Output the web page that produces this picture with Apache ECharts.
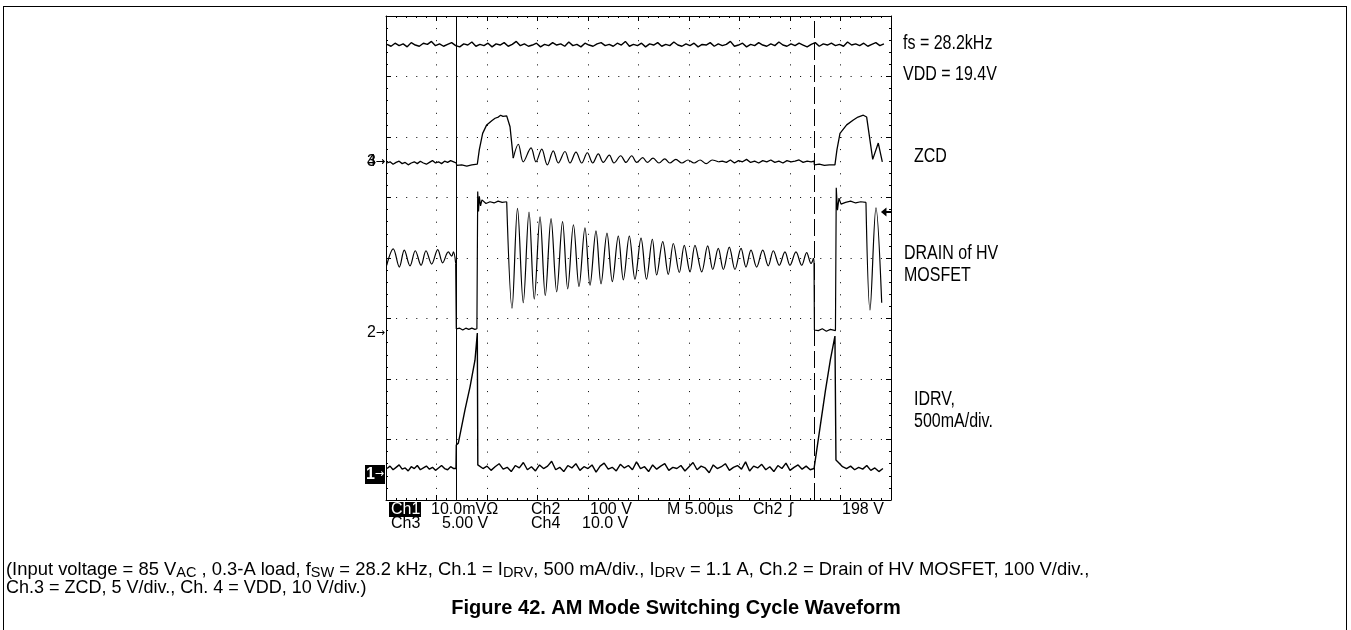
<!DOCTYPE html>
<html><head><meta charset="utf-8">
<script src="https://cdn.jsdelivr.net/npm/echarts@6/dist/echarts.min.js"></script>
<style>html,body{margin:0;padding:0;background:#fff}#c{width:1351px;height:630px}</style>
</head><body><div id="c"></div>
<script>
// ---------------- DATA (time in µs, amplitude in screen divisions from bottom) ----------------
const timeRange = [0, 50];          // 10 div x 5 µs
const divRange = [0, 8];            // 8 vertical divisions
const cursorTimes = [6.96, 42.38];  // solid and dashed cursors
const triggerMark = [49.55, 4.76];  // Ch2 trigger level arrow

// Ch4 VDD: sampled every 0.4 µs from 0.1 µs
const vddNoise = [7.53,7.50,7.55,7.51,7.54,7.49,7.56,7.52,7.50,7.55,7.53,7.58,7.51,7.54,7.50,7.53,7.56,7.51,7.49,7.54,
7.52,7.57,7.50,7.53,7.51,7.55,7.49,7.54,7.52,7.56,7.50,7.53,7.58,7.51,7.54,7.50,7.52,7.55,7.49,7.53,
7.51,7.56,7.52,7.54,7.50,7.57,7.51,7.53,7.49,7.55,7.52,7.50,7.54,7.56,7.51,7.53,7.50,7.55,7.52,7.58,
7.50,7.53,7.51,7.55,7.49,7.54,7.52,7.56,7.50,7.53,7.51,7.57,7.52,7.50,7.54,7.51,7.55,7.49,7.53,7.52,
7.56,7.50,7.54,7.51,7.53,7.58,7.50,7.52,7.55,7.49,7.53,7.51,7.56,7.52,7.50,7.54,7.51,7.57,7.52,7.50,
7.54,7.51,7.55,7.52,7.49,7.53,7.56,7.50,7.54,7.52,7.55,7.51,7.53,7.50,7.57,7.52,7.54,7.51,7.55,7.50,
7.53,7.56,7.51,7.54];

// Ch3 ZCD
const zcdBase1 = [5.57,5.59,5.55,5.58,5.60,5.56,5.58,5.54,5.57,5.59,5.56,5.60,5.57,5.55,5.58,5.61,5.57,5.59,5.56,5.60,5.58,5.61,5.59]; // every 0.3 µs from 0.1
const zcdPulse1 = [[6.96,5.57],[7.0,5.53],[7.5,5.54],[8.0,5.52],[8.5,5.54],[9.04,5.55],[9.24,5.79],[9.57,6.06],[9.97,6.20],[10.47,6.27],[10.8,6.31],[11.12,6.33],[11.35,6.36],[11.58,6.34],[11.95,6.35],[12.28,6.17],[12.60,5.65]];
const zcdRing1 = [[12.60,5.65],[13.10,5.88],[13.59,5.59],[14.36,5.82],[14.85,5.59],[15.42,5.80],[15.97,5.54],[16.56,5.77],[17.06,5.57],[17.72,5.76],[18.22,5.57],[18.81,5.75],[19.38,5.57],[19.93,5.74],[20.47,5.57],[21.02,5.72],[21.51,5.58],[22.11,5.70],[22.57,5.57],[23.24,5.69],[23.76,5.58],[24.33,5.69],[24.82,5.58],[25.42,5.66],[25.87,5.58],[26.44,5.65],[27.03,5.57],[27.6,5.64],[28.1,5.57],[28.7,5.63],[29.3,5.57],[29.9,5.62],[30.5,5.57],[31.1,5.62],[31.7,5.56],[32.3,5.62],[32.9,5.59]];
const zcdBase2 = [5.60,5.58,5.62,5.57,5.61,5.59,5.63,5.58,5.60,5.57,5.61,5.59,5.62,5.58,5.60,5.57,5.61,5.59,5.60,5.62,5.58,5.60,5.59]; // every 0.4 µs from 33.3
const zcdPulse2 = [[42.38,5.60],[42.42,5.54],[42.9,5.55],[43.4,5.53],[43.9,5.54],[44.45,5.54],[44.65,5.79],[44.95,6.06],[45.61,6.20],[46.27,6.28],[46.73,6.33],[47.26,6.36],[47.59,6.33],[48.19,5.63],[48.74,5.90],[49.14,5.59]];

// Ch2 Drain of HV MOSFET
const drainRipple = [[0.07,3.88],[0.72,4.15],[1.32,3.85],[1.81,4.13],[2.38,3.87],[2.90,4.12],[3.47,3.88],[3.96,4.12],[4.52,3.90],[5.12,4.14],[5.61,3.92],[6.17,4.10],[6.50,4.03],[6.68,4.10],[6.90,3.91]];
const drainStep1 = [[6.90,3.91],[6.96,2.83],[7.3,2.84],[7.6,2.81],[7.9,2.84],[8.2,2.82],[8.5,2.84],[8.8,2.82],[9.0,2.83],[9.08,5.10],[9.16,4.77],[9.24,5.02],[9.36,4.86],[9.50,4.96],[9.9,4.90],[10.3,4.93],[10.7,4.91],[11.1,4.94],[11.5,4.92],[11.95,4.93]];
const drainRing1 = [[11.95,4.93],[12.48,3.17],[13.02,4.82],[13.59,3.26],[14.16,4.76],[14.68,3.32],[15.25,4.68],[15.77,3.38],[16.34,4.65],[16.90,3.44],[17.48,4.60],[17.99,3.49],[18.56,4.55],[19.11,3.53],[19.70,4.50],[20.20,3.55],[20.79,4.45],[21.29,3.57],[21.88,4.41],[22.41,3.61],[23.0,4.36],[23.50,3.64],[24.09,4.36],[24.65,3.65],[25.25,4.33],[25.79,3.65],[26.37,4.31],[26.80,3.72],[27.40,4.27],[27.95,3.73],[28.45,4.24],[29.04,3.76],[29.53,4.21],[30.10,3.77],[30.59,4.21],[31.26,3.77],[31.85,4.20],[32.35,3.81],[32.90,4.16],[33.40,3.81],[33.99,4.18],[34.55,3.81],[35.15,4.16],[35.64,3.85],[36.14,4.13],[36.70,3.85],[37.30,4.13],[37.85,3.87],[38.35,4.12],[38.94,3.88],[39.50,4.10],[40.0,3.88],[40.59,4.10],[41.16,3.88],[41.65,4.09],[42.08,3.91],[42.33,4.00]];
const drainStep2 = [[42.33,4.00],[42.38,3.94],[42.42,2.81],[42.8,2.80],[43.2,2.83],[43.6,2.79],[44.0,2.82],[44.5,2.80],[44.58,5.16],[44.70,4.79],[44.85,4.99],[45.05,4.89],[45.5,4.92],[46.0,4.94],[46.5,4.91],[47.0,4.93],[47.52,4.92]];
const drainRing2 = [[47.52,4.92],[47.92,3.14],[48.51,4.83],[49.08,3.26]];

// Ch1 IDRV
const idrvBase1 = [0.52,0.56,0.50,0.54,0.58,0.51,0.53,0.48,0.55,0.52,0.57,0.50,0.53,0.56,0.51,0.54,0.49,0.53,0.57,0.52,0.50,0.55,0.52]; // every 0.3 µs from 0.1
const idrvRamp1 = [[6.93,0.52],[6.96,0.91],[7.16,0.94],[7.82,1.49],[8.32,1.87],[8.81,2.31],[8.98,2.64],[9.04,2.76],[9.09,0.58]];
const idrvBase2 = [0.58,0.52,0.56,0.49,0.55,0.60,0.51,0.54,0.47,0.57,
0.53,0.62,0.50,0.55,0.48,0.58,0.52,0.56,0.64,0.50,
0.54,0.47,0.57,0.53,0.60,0.49,0.55,0.52,0.58,0.46,
0.56,0.61,0.51,0.54,0.48,0.59,0.53,0.57,0.50,0.63,
0.52,0.55,0.47,0.58,0.51,0.56,0.60,0.49,0.54,0.52,
0.57,0.48,0.55,0.62,0.50,0.56,0.53,0.45,0.58,0.52,
0.55,0.60,0.49,0.54,0.57,0.51,0.63,0.48,0.56,0.53,
0.59,0.50,0.55,0.47,0.57,0.52,0.61,0.49,0.54,0.58,
0.51,0.56,0.50]; // every 0.4 µs from 9.2
const idrvRamp2 = [[42.38,0.52],[43.0,1.23],[43.5,1.80],[44.0,2.32],[44.45,2.71],[44.55,0.66]];
const idrvBase3 = [0.62,0.55,0.52,0.56,0.50,0.54,0.51,0.57,0.49,0.53,0.47,0.52]; // every 0.4 µs from 44.8

// ---------------- TEXT ----------------
const rightLabels = [
  {text:'fs = 28.2kHz', x:903, y:43},
  {text:'VDD = 19.4V', x:903, y:74},
  {text:'ZCD', x:914, y:156},
  {text:'DRAIN of HV', x:904, y:253},
  {text:'MOSFET', x:904, y:275},
  {text:'IDRV,', x:914, y:399},
  {text:'500mA/div.', x:914, y:421}
];
const scopeRow1 = [['10.0mVΩ',431],['Ch2',531],['100 V',590],['M 5.00µs',667],['Ch2',753],['ʃ',789],['198 V',842]];
const scopeRow2 = [['Ch3',391],['5.00 V',442],['Ch4',531],['10.0 V',582]];
const chMarkers = [['4',162],['3',162],['2',333]];
const captionLine1 = '(Input voltage = 85 V{s|AC} , 0.3-A load, f{s|SW} = 28.2 kHz, Ch.1 = I{s|DRV}, 500 mA/div., I{s|DRV} = 1.1 A, Ch.2 = Drain of HV MOSFET, 100 V/div.,';
const captionLine2 = 'Ch.3 = ZCD, 5 V/div., Ch. 4 = VDD, 10 V/div.)';
const figTitle = 'Figure 42. AM Mode Switching Cycle Waveform';

// ---------------- BUILD ----------------
function sampled(t0, dt, vals){ return vals.map((v,i)=>[Math.round((t0+i*dt)*100)/100, v]); }
const SANS = '"Liberation Sans", Arial, sans-serif';

const GRID = {left:386, top:16, width:505, height:484};
function trace(data, smooth, w){
  return {type:'line', data, showSymbol:false, symbol:'none', smooth: smooth||false,
    lineStyle:{color:'#000', width:w||1.2}, silent:true, animation:false, z:3};
}

const series = [
  Object.assign(trace(sampled(0.1,0.4,vddNoise), false, 1.4), {
    markLine:{silent:true, symbol:['none','none'], label:{show:false}, animation:false,
      lineStyle:{color:'#000', width:1},
      data:[{xAxis:cursorTimes[0], lineStyle:{type:'solid', color:'#000', width:1}},
            {xAxis:cursorTimes[1], lineStyle:{type:[17,5], color:'#000', width:1}}]}
  }),
  trace([...sampled(0.1,0.3,zcdBase1), ...zcdPulse1], false, 1.3),
  trace(zcdRing1, 0.35),
  trace([...zcdRing1.slice(-1), ...sampled(33.3,0.4,zcdBase2), ...zcdPulse2], false, 1.3),
  trace(drainRipple, 0.35),
  trace(drainStep1),
  trace(drainRing1, 0.35),
  Object.assign(trace(drainStep2), {
    markPoint:{silent:true, animation:false, data:[{coord:triggerMark, symbol:'path://M0,5 L6,0 L6,4 L12,4 L12,6 L6,6 L6,10 Z', symbolSize:[11,9], itemStyle:{color:'#000'}, label:{show:false}}]}
  }),
  trace(drainRing2, 0.35),
  trace([...sampled(0.1,0.3,idrvBase1), ...idrvRamp1, ...sampled(9.2,0.4,idrvBase2), ...idrvRamp2, ...sampled(44.8,0.4,idrvBase3)], false, 1.4)
];

function axisCommon(){
  return {
    axisLine:{show:true, onZero:false, lineStyle:{color:'#000', width:1}},
    axisTick:{show:true, inside:true, length:5, lineStyle:{color:'#000'}},
    minorTick:{show:true, splitNumber:5, length:2, lineStyle:{color:'#000'}},
    axisLabel:{show:false}
  };
}
const xAxis = [
  Object.assign({type:'value', min:timeRange[0], max:timeRange[1], interval:5, position:'bottom',
    splitLine:{show:true, lineStyle:{color:'#000', width:1, type:[1,11.1]}}}, axisCommon()),
  Object.assign({type:'value', min:timeRange[0], max:timeRange[1], interval:5, position:'top', splitLine:{show:false}}, axisCommon())
];
const yAxis = [
  Object.assign({type:'value', min:divRange[0], max:divRange[1], interval:1, position:'left',
    splitLine:{show:true, lineStyle:{color:'#000', width:1, type:[1,9.1]}}}, axisCommon()),
  Object.assign({type:'value', min:divRange[0], max:divRange[1], interval:1, position:'right', splitLine:{show:false}}, axisCommon())
];

function txt(x, y, text, font, align, fill, extra, scaleX){
  const el = {type:'text', x, y, silent:true, z:10,
    style:Object.assign({text, font, fill:fill||'#000', textAlign:align||'left', textVerticalAlign:'middle', align:align||'left', verticalAlign:'middle'}, extra||{})};
  if (scaleX) el.scaleX = scaleX;
  return el;
}
const scopeFont = '16px ' + SANS;
const arrowRich = {rich:{a:{fontSize:11, fontFamily:'DejaVu Sans', fill:'#000'}}};
const graphic = [
  {type:'line', silent:true, shape:{x1:3,y1:6.5,x2:1347,y2:6.5}, style:{stroke:'#000', lineWidth:1}},
  {type:'line', silent:true, shape:{x1:3.5,y1:6,x2:3.5,y2:630}, style:{stroke:'#000', lineWidth:1}},
  {type:'line', silent:true, shape:{x1:1346.5,y1:6,x2:1346.5,y2:630}, style:{stroke:'#000', lineWidth:1}},
  // channel markers
  ...chMarkers.map(m=>txt(385, m[1], m[0]+'{a|→}', '16px ' + SANS, 'right', '#000', arrowRich)),
  {type:'rect', silent:true, shape:{x:365, y:465, width:20, height:19}, style:{fill:'#000'}},
  txt(384, 474.5, '1{a|→}', 'bold 16px ' + SANS, 'right', '#fff', {rich:{a:{fontSize:11, fontFamily:'DejaVu Sans', fill:'#fff'}}}),
  // scope readout
  {type:'rect', silent:true, shape:{x:389, y:502, width:32, height:15}, style:{fill:'#000'}},
  txt(391, 510, 'Ch1', scopeFont, 'left', '#fff'),
  ...scopeRow1.map(r=>txt(r[1], 510, r[0], scopeFont)),
  ...scopeRow2.map(r=>txt(r[1], 523.5, r[0], scopeFont)),
  // right labels (narrowed 20px sans)
  ...rightLabels.map(l=>txt(l.x, l.y, l.text, '20px ' + SANS, 'left', '#000', null, 0.8)),
  // caption
  txt(6, 570, captionLine1, '18.4px ' + SANS, 'left', '#000', {lineHeight:20, rich:{s:{fontSize:14.5, fontFamily:'Liberation Sans', lineHeight:8, verticalAlign:'bottom', fill:'#000'}}}),
  txt(6, 588, captionLine2, '18px ' + SANS),
  txt(676, 608, figTitle, 'bold 20px ' + SANS, 'center')
];

const chart = echarts.init(document.getElementById('c'), null, {renderer:'canvas'});
chart.setOption({
  animation:false,
  backgroundColor:'#fff',
  grid:Object.assign({show:false, containLabel:false}, GRID),
  xAxis, yAxis, series, graphic
});
</script></body></html>
